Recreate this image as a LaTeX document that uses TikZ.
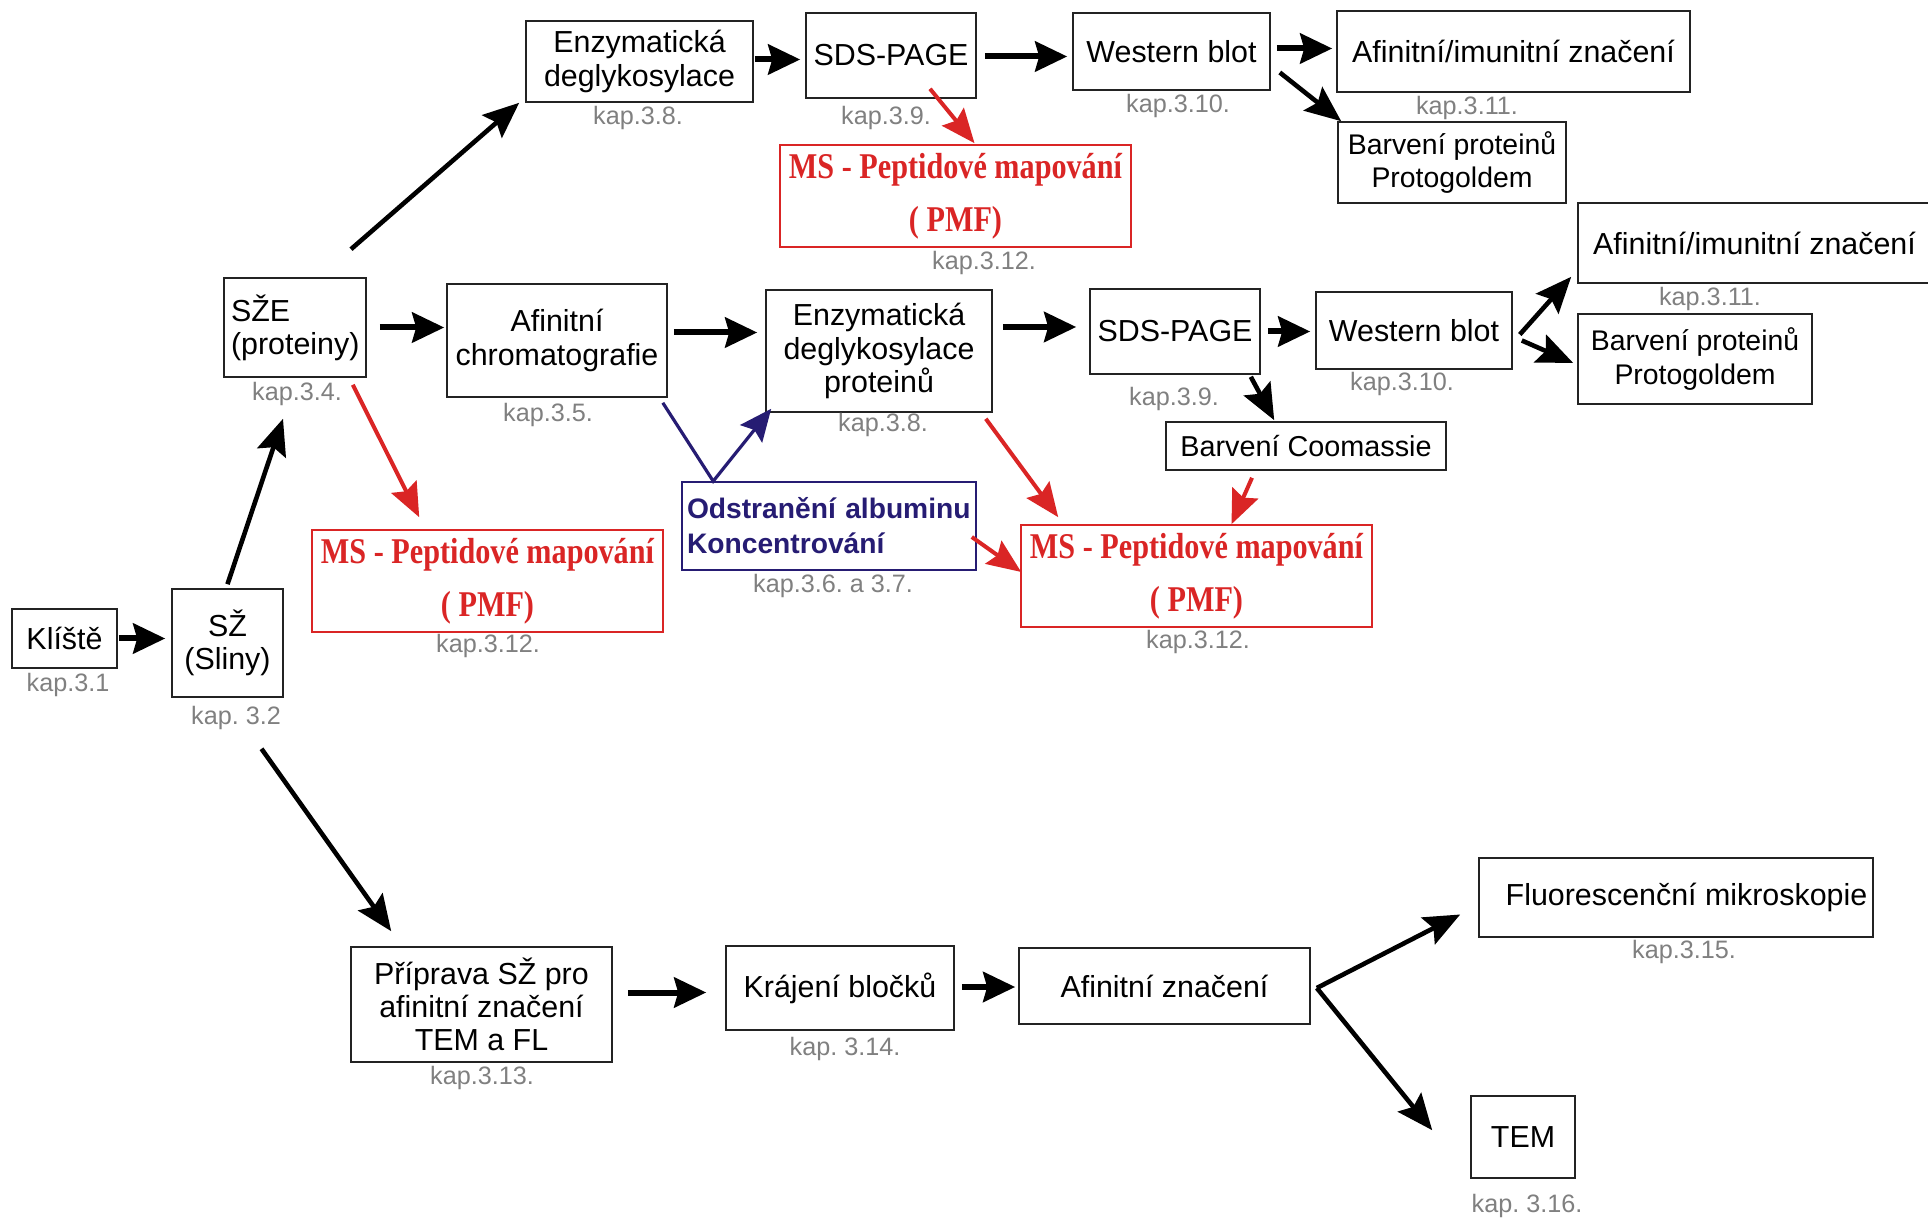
\documentclass[tikz,border=0pt]{standalone}
\usepackage{fontspec}
\usepackage{graphicx}
\setmainfont{Liberation Sans}
\newfontfamily\msfont{Liberation Serif}
\frenchspacing
\usetikzlibrary{arrows.meta,calc}
\definecolor{labgray}{RGB}{128,128,128}
\definecolor{msred}{RGB}{218,37,37}
\definecolor{navyblue}{RGB}{38,28,115}
\definecolor{boxline}{RGB}{35,35,35}
\newcommand{\msline}[1]{\scalebox{1}[1.2]{#1}}
\newcommand{\mstext}{\msline{MS - Peptidové mapování}\\\msline{( PMF)}}
\tikzset{
  box/.style={draw=boxline, line width=0.8pt, inner sep=0pt, align=center, text=black,
    font=\fontsize{15.2}{16.6}\selectfont},
  msbox/.style={draw=msred, line width=0.8pt, inner sep=0pt, align=center, text=msred,
    font=\msfont\bfseries\fontsize{15.1}{26.5}\selectfont},
  kap/.style={text=labgray, inner sep=0pt, font=\fontsize{12.6}{14}\selectfont},
  arrB/.style={draw=black, line width=3pt, -{Stealth[length=16pt,width=15pt,inset=2pt]}},
  arrD/.style={draw=black, line width=2.3pt, line join=miter, -{Stealth[length=18pt,width=15pt,inset=3pt]}},
  arrR/.style={draw=msred, line width=2pt, -{Stealth[length=17pt,width=14pt,inset=2.5pt]}},
  arrN/.style={draw=navyblue, line width=1.6pt, -{Stealth[length=16pt,width=14pt,inset=2.5pt]}}
}
\begin{document}
\begin{tikzpicture}[x=0.5pt,y=-0.5pt]
\useasboundingbox[fill=white] (0,0) rectangle (1928,1218);

% boxes
\node[box, minimum width=52.5pt, minimum height=29.5pt] (klis) at (64.5,638.5) {Klíště};
\node[box, minimum width=55.5pt, minimum height=54pt] (sz) at (227.5,643) {SŽ\\(Sliny)};
\node[box, minimum width=71pt, minimum height=49.5pt, inner xsep=3.5pt, text width=64pt, align=left] (sze) at (295,327.5) {SŽE\\(proteiny)};
\node[box, minimum width=113.5pt, minimum height=40.5pt] (enz1) at (639.5,61.5) {Enzymatická\\deglykosylace};
\node[box, minimum width=85pt, minimum height=42.5pt] (sds1) at (891,55.5) {SDS-PAGE};
\node[box, minimum width=98.5pt, minimum height=38.5pt] (wb1) at (1171.5,51.5) {Western blot};
\node[box, minimum width=176.5pt, minimum height=40.5pt] (afim1) at (1513.5,51.5) {Afinitní/imunitní značení};
\node[box, minimum width=114pt, minimum height=40.5pt, font=\fontsize{14.2}{16.6}\selectfont] (barv1) at (1452,162.5) {Barvení proteinů\\Protogoldem};
\node[msbox, minimum width=175.5pt, minimum height=51pt] (ms1) at (955.5,196) {\mstext};
\node[box, minimum width=110pt, minimum height=56.5pt] (afch) at (557,340.5) {Afinitní\\chromatografie};
\node[box, minimum width=113pt, minimum height=61pt] (enz2) at (879,351) {Enzymatická\\deglykosylace\\proteinů};
\node[box, minimum width=85pt, minimum height=42.5pt] (sds2) at (1175,331.5) {SDS-PAGE};
\node[box, minimum width=98pt, minimum height=38.5pt] (wb2) at (1414,330.5) {Western blot};
\node[box, minimum width=176.5pt, minimum height=40pt] (afim2) at (1754.5,243) {Afinitní/imunitní značení};
\node[box, minimum width=117pt, minimum height=45pt, font=\fontsize{14.2}{16.6}\selectfont] (barv2) at (1695,359) {Barvení proteinů\\Protogoldem};
\node[box, minimum width=140pt, minimum height=24pt, font=\fontsize{14.4}{16}\selectfont] (coom) at (1306,446) {Barvení Coomassie};
\node[msbox, minimum width=175.5pt, minimum height=51pt] (ms2) at (1196.5,576) {\mstext};
\node[msbox, minimum width=175.5pt, minimum height=51pt] (ms3) at (487.5,581) {\mstext};
\node[draw=navyblue, line width=0.8pt, inner xsep=2.5pt, inner ysep=0pt, text width=142pt, align=left,
  minimum height=44pt, text=navyblue, font=\bfseries\fontsize{14.1}{17.5}\selectfont] (odstr) at (829,526)
  {Odstranění albuminu\\Koncentrování};
\node[box, minimum width=130.5pt, minimum height=57.5pt] (prip) at (481.5,1004.5) {Příprava SŽ pro\\afinitní značení\\TEM a FL};
\node[box, minimum width=114pt, minimum height=42pt] (kraj) at (840,988) {Krájení bločků};
\node[box, minimum width=145.5pt, minimum height=38pt] (afz) at (1164.5,986) {Afinitní značení};
\node[box, minimum width=197pt, minimum height=39.5pt] (fluo) at (1676,897.5) {\hspace*{10.5pt}Fluorescenční mikroskopie};
\node[box, minimum width=52pt, minimum height=41pt] (tem) at (1523,1137) {TEM};

% chapter labels
\node[kap] (k31) at (68,685) {kap.3.1};
\node[kap] (k32) at (236,718) {kap. 3.2};
\node[kap] (k34) at (297,394) {kap.3.4.};
\node[kap] (k38a) at (638,118) {kap.3.8.};
\node[kap] (k39a) at (886,118) {kap.3.9.};
\node[kap] (k310a) at (1178,106) {kap.3.10.};
\node[kap] (k311a) at (1467,108) {kap.3.11.};
\node[kap] (k312a) at (984,263) {kap.3.12.};
\node[kap] (k35) at (548,415) {kap.3.5.};
\node[kap] (k38b) at (883,425) {kap.3.8.};
\node[kap] (k39b) at (1174,399) {kap.3.9.};
\node[kap] (k310b) at (1402,384) {kap.3.10.};
\node[kap] (k311b) at (1710,299) {kap.3.11.};
\node[kap] (k312c) at (488,646) {kap.3.12.};
\node[kap] (k367) at (833,586) {kap.3.6. a 3.7.};
\node[kap] (k312b) at (1198,642) {kap.3.12.};
\node[kap] (k313) at (482,1078) {kap.3.13.};
\node[kap] (k314) at (845,1049) {kap. 3.14.};
\node[kap] (k315) at (1684,952) {kap.3.15.};
\node[kap] (k316) at (1527,1206) {kap. 3.16.};

% connectors
\draw[arrB] ($(klis.east)+(1,0)$) -- ($(klis.east -| sz.west)+(-6,0)$);
\draw[arrD] ($(sz.north)+(0,-4)$) -- ($(sze.south)+(-12,41)$);
\draw[arrD] ($(sze.north)+(56,-28)$) -- ($(enz1.south west)+(-6,0)$);
\draw[arrB] ($(sze.east)+(13,0)$) -- ($(sze.east -| afch.west)+(-2,0)$);
\draw[arrB] ($(enz1.east)+(1,-2)$) -- ($(enz1.east -| sds1.west)+(-5,-2)$);
\draw[arrB] ($(sds1.east)+(8,1)$) -- ($(sds1.east -| wb1.west)+(-5,1)$);
\draw[arrB] ($(wb1.east)+(6,-3)$) -- ($(wb1.east -| afim1.west)+(-4,-3)$);
\draw[arrD] ($(wb1.east)+(9,21)$) -- ($(barv1.north west)+(4,0)$);
\draw[arrR] ($(sds1.south)+(39,-10)$) -- ($(ms1.north)+(19,-1)$);
\draw[arrR] ($(sze.south east)+(-14,7)$) -- ($(ms3.north west)+(108,-12)$);
\draw[arrB] ($(afch.east)+(6,-8)$) -- ($(afch.east -| enz2.west)+(-8,-8)$);
\draw[arrN] ($(afch.south east)+(-5,5)$) -- ($(odstr.north west)+(32,0)$) -- ($(enz2.south west)+(6,-4)$);
\draw[arrB] ($(enz2.east)+(10,-24)$) -- ($(enz2.east -| sds2.west)+(-13,-24)$);
\draw[arrB] ($(sds2.east)+(7,0)$) -- ($(sds2.east -| wb2.west)+(-5,0)$);
\draw[arrD] ($(wb2.east)+(7,4)$) -- ($(afim2.south west)+(-6,-7)$);
\draw[arrD] ($(wb2.east)+(9,10)$) -- ($(barv2.west)+(-4,4)$);
\draw[arrD] ($(sds2.south east)+(-10,2)$) -- ($(coom.north west)+(109,-1)$);
\draw[arrR] ($(enz2.south east)+(-7,6)$) -- ($(ms2.north west)+(38,-7)$);
\draw[arrR] ($(odstr.east)+(-5,11)$) -- ($(ms2.west)+(1,-4)$);
\draw[arrR] ($(coom.south)+(-54,7)$) -- ($(ms2.north)+(35,0)$);
\draw[arrD] ($(sz.south)+(34,51)$) -- ($(prip.north west)+(41,-15)$);
\draw[arrB] ($(prip.east)+(15,-12)$) -- ($(prip.east -| kraj.west)+(-19,-12)$);
\draw[arrB] ($(kraj.east)+(7,-1)$) -- ($(kraj.east -| afz.west)+(-3,-1)$);
\coordinate (fan) at ($(afz.east)+(6,2)$);
\draw[arrD] (fan) -- ($(fluo.west)+(-18,17)$);
\draw[arrD] (fan) -- ($(tem.north west)+(-38,35)$);
\end{tikzpicture}
\end{document}
